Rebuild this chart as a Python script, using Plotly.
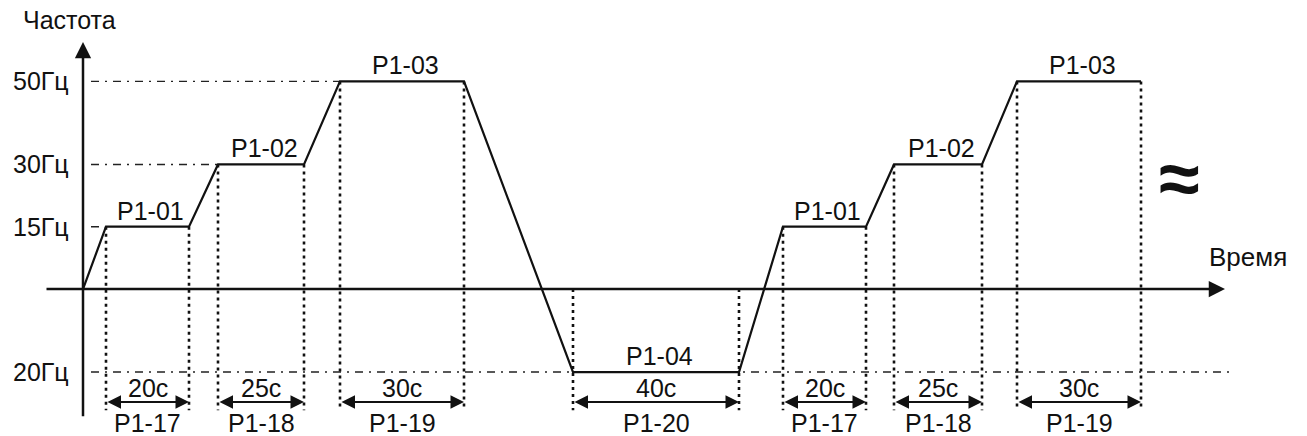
import plotly.graph_objects as go

# ---- data ----
time_s = [0, 23, 106, 135, 221, 257, 381, 490, 656, 700, 783, 811, 899, 934, 1058]
freq_hz = [0, 15, 15, 30, 30, 50, 50, -20, -20, 15, 15, 30, 30, 50, 50]

level_values = [50, 30, 15, -20]
level_labels = ["50Гц", "30Гц", "15Гц", "20Гц"]
guide_end = [257, 135, 23, 1148]

plateau_labels = ["P1-01", "P1-02", "P1-03", "P1-04", "P1-01", "P1-02", "P1-03"]
duration_labels = ["20c", "25c", "30c", "40c", "20c", "25c", "30c"]
param_labels = ["P1-17", "P1-18", "P1-19", "P1-20", "P1-17", "P1-18", "P1-19"]

time_axis_extent = [-38, 1142]
freq_axis_extent = [-31, 59.5]

# ---- layout constants (positions / styles) ----
FONT = "Liberation Sans, Arial, sans-serif"
TXT = "#111111"
FS = 25
GUIDE_START = 8
DOT_BOTTOM = -29.2
DIM_Y = -27.2
DUR_Y = -23.9
PAR_Y = -32.3

fig = go.Figure()

# dash-dot level guides
for lv, end in zip(level_values, guide_end):
    fig.add_trace(go.Scatter(x=[GUIDE_START, end], y=[lv, lv], mode="lines",
                             line=dict(color="#222222", width=1.4, dash="8px,6px,2px,6px"),
                             hoverinfo="skip"))

# plateau boundaries (start idx odd, end idx even)
starts = list(range(1, len(time_s), 2))
ends = [i + 1 for i in starts]

vx, vy = [], []
for s, e in zip(starts, ends):
    for idx in (s, e):
        top = max(freq_hz[idx], 0)
        vx += [time_s[idx], time_s[idx], None]
        vy += [top, DOT_BOTTOM, None]
fig.add_trace(go.Scatter(x=vx, y=vy, mode="lines",
                         line=dict(color="#111111", width=2.6, dash="3px,4px"),
                         hoverinfo="skip"))

# main profile
fig.add_trace(go.Scatter(x=time_s, y=freq_hz, mode="lines",
                         line=dict(color="#111111", width=2.2), hoverinfo="skip"))

ann = []
# axes with arrows
ann.append(dict(x=time_axis_extent[1], y=0, ax=time_axis_extent[0], ay=0,
                xref="x", yref="y", axref="x", ayref="y", text="", showarrow=True,
                arrowhead=2, arrowsize=1.3, arrowwidth=2.5, arrowcolor="#111111"))
ann.append(dict(x=0, y=freq_axis_extent[1], ax=0, ay=freq_axis_extent[0],
                xref="x", yref="y", axref="x", ayref="y", text="", showarrow=True,
                arrowhead=2, arrowsize=1.3, arrowwidth=2.5, arrowcolor="#111111"))

# dimension arrows and labels
for k, (s, e) in enumerate(zip(starts, ends)):
    t0, t1 = time_s[s], time_s[e]
    mid = (t0 + t1) / 2
    ann.append(dict(x=t1, y=DIM_Y, ax=t0, ay=DIM_Y, xref="x", yref="y", axref="x", ayref="y",
                    text="", showarrow=True, arrowside="end+start",
                    arrowhead=2, startarrowhead=2, arrowsize=1.35, startarrowsize=1.35,
                    arrowwidth=2, arrowcolor="#111111"))
    ann.append(dict(x=mid, y=DUR_Y, text=duration_labels[k], showarrow=False,
                    font=dict(family=FONT, size=FS, color=TXT)))
    ann.append(dict(x=mid, y=PAR_Y, text=param_labels[k], showarrow=False,
                    font=dict(family=FONT, size=FS, color=TXT)))
    ann.append(dict(x=mid + 3, y=freq_hz[s], yshift=16, text=plateau_labels[k], showarrow=False,
                    font=dict(family=FONT, size=FS, color=TXT)))

# level tick labels
for lv, lab in zip(level_values, level_labels):
    ann.append(dict(x=-12, y=lv, text=lab, showarrow=False, xanchor="right",
                    font=dict(family=FONT, size=FS, color=TXT)))

ann.append(dict(x=-14, y=64.8, text="Частота", showarrow=False,
                font=dict(family=FONT, size=25, color=TXT)))
ann.append(dict(x=1165, y=7.7, text="Время", showarrow=False,
                font=dict(family=FONT, size=26, color=TXT)))
ann.append(dict(x=1096, y=26.7, text="<b>≈</b>", showarrow=False,
                font=dict(family=FONT, size=74, color=TXT)))

fig.update_layout(
    width=1307, height=436,
    margin=dict(l=0, r=0, t=0, b=0),
    paper_bgcolor="white", plot_bgcolor="white",
    showlegend=False,
    xaxis=dict(visible=False, range=[-83, 1224], fixedrange=True),
    yaxis=dict(visible=False, range=[-35.4, 69.6], fixedrange=True),
    annotations=ann,
)

fig.write_html("out.html", post_script="document.body.style.margin='0';",
               config={"displayModeBar": False})
